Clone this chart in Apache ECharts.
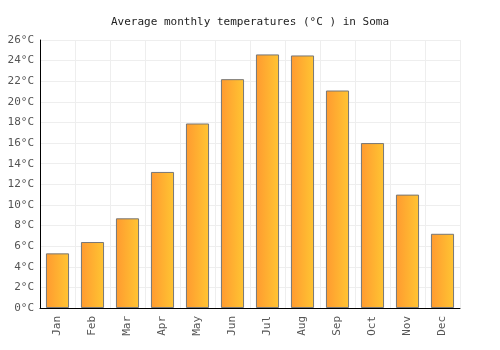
<!DOCTYPE html>
<html>
<head>
<meta charset="utf-8">
<script src="https://cdn.jsdelivr.net/npm/echarts@6/dist/echarts.min.js"></script>
<style>
  html, body { margin: 0; padding: 0; background: #fff; }
  #chart { width: 500px; height: 350px; }
</style>
</head>
<body>
<div id="chart"></div>
<script>
var months = ["Jan", "Feb", "Mar", "Apr", "May", "Jun", "Jul", "Aug", "Sep", "Oct", "Nov", "Dec"];
var temps = [5.3, 6.4, 8.7, 13.2, 17.9, 22.2, 24.6, 24.5, 21.1, 16.0, 11.0, 7.2];
var titleText = "Average monthly temperatures (°C ) in Soma";

var chart = echarts.init(document.getElementById("chart"), null, { renderer: "canvas" });
var fontFam = "'DejaVu Sans Mono', monospace";

var option = {
    animation: false,
    title: {
        text: titleText,
        left: "center",
        top: 12,
        textStyle: { fontFamily: fontFam, fontSize: 11, fontWeight: "normal", color: "#222" }
    },
    grid: { left: 40, right: 40, top: 40, bottom: 42 },
    xAxis: {
        type: "category",
        data: months,
        boundaryGap: true,
        axisLine: { lineStyle: { color: "#000", width: 1 } },
        axisTick: { show: false },
        splitLine: { show: true, lineStyle: { color: "#eee" } },
        axisLabel: { rotate: 90, fontFamily: fontFam, fontSize: 11, color: "#555", margin: 8 }
    },
    yAxis: {
        type: "value",
        min: 0,
        max: 26,
        interval: 2,
        axisLine: { show: true, lineStyle: { color: "#000", width: 1 } },
        axisTick: { show: false },
        splitLine: { lineStyle: { color: "#eee" } },
        axisLabel: { formatter: "{value}°C", fontFamily: fontFam, fontSize: 11, color: "#555", margin: 6 }
    },
    series: [{
        type: "bar",
        data: temps,
        barCategoryGap: "34%",
        itemStyle: {
            color: new echarts.graphic.LinearGradient(0, 0, 1, 0, [
                { offset: 0, color: "#ff9a30" },
                { offset: 1, color: "#ffc532" }
            ]),
            borderColor: "#777",
            borderWidth: 1
        }
    }]
};

chart.setOption(option);
</script>
</body>
</html>
